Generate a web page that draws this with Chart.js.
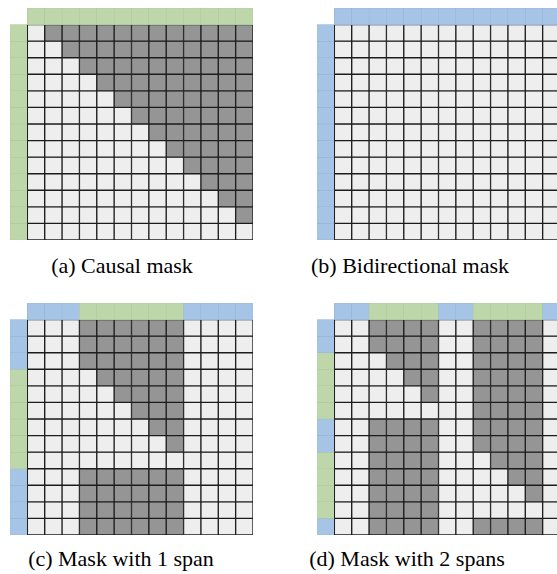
<!DOCTYPE html>
<html lang="en">
<head>
    <meta charset="UTF-8">
    <title>Attention masks</title>
    <script src="https://cdn.jsdelivr.net/npm/chart.js"></script>
    <style>
        body { margin: 0; background: #fff; overflow: hidden; width: 557px; height: 574px; }
        .panel { position: absolute; overflow: hidden; }
        .cap { position: absolute; width: 300px; text-align: center; font-family: 'Liberation Serif', 'Times New Roman', serif; font-size: 22px; line-height: 22px; color: #000; white-space: nowrap; }
    </style>
</head>
<body>
    <div class="panel" style="left:10px; top:8px; width:244px; height:233px;"><canvas id="c0" width="243" height="232"></canvas></div>
    <div class="panel" style="left:317px; top:8px; width:240px; height:233px;"><canvas id="c1" width="243" height="232"></canvas></div>
    <div class="panel" style="left:10px; top:303px; width:244px; height:233px;"><canvas id="c2" width="243" height="232"></canvas></div>
    <div class="panel" style="left:317px; top:303px; width:240px; height:233px;"><canvas id="c3" width="243" height="232"></canvas></div>

    <div class="cap" style="left:-28px; top:255px;">(a) Causal mask</div>
    <div class="cap" style="left:260px; top:255px;">(b) Bidirectional mask</div>
    <div class="cap" style="left:-29px; top:548px;">(c) Mask with 1 span</div>
    <div class="cap" style="left:257px; top:548px;">(d) Mask with 2 spans</div>

    <script>
        // span type of each token: G = green (masked span), B = blue (context)
        const causalSpans = 'GGGGGGGGGGGGG';
        const bidirSpans  = 'BBBBBBBBBBBBB';
        const oneSpan     = 'BBBGGGGGGBBBB';
        const twoSpans    = 'BBGGGGBBGGGGB';

        // 1 = masked (dark), 0 = visible (light)
        const causalMask = [
            '0111111111111',
            '0011111111111',
            '0001111111111',
            '0000111111111',
            '0000011111111',
            '0000001111111',
            '0000000111111',
            '0000000011111',
            '0000000001111',
            '0000000000111',
            '0000000000011',
            '0000000000001',
            '0000000000000'
        ];
        const bidirMask = [
            '0000000000000', '0000000000000', '0000000000000', '0000000000000',
            '0000000000000', '0000000000000', '0000000000000', '0000000000000',
            '0000000000000', '0000000000000', '0000000000000', '0000000000000',
            '0000000000000'
        ];
        const oneSpanMask = [
            '0001111110000',
            '0001111110000',
            '0001111110000',
            '0000111110000',
            '0000011110000',
            '0000001110000',
            '0000000110000',
            '0000000010000',
            '0000000000000',
            '0001111110000',
            '0001111110000',
            '0001111110000',
            '0001111110000'
        ];
        const twoSpanMask = [
            '0011110011110',
            '0011110011110',
            '0001110011110',
            '0000110011110',
            '0000010011110',
            '0000000011110',
            '0011110011110',
            '0011110011110',
            '0011110001110',
            '0011110000110',
            '0011110000010',
            '0011110000000',
            '0011110011110'
        ];

        const spanColor = { G: '#bdd7aa', B: '#a6c4e5' };
        const spanLine  = { G: '#adc99b', B: '#95b5d8' };
        const lightCell = '#eeeeee';
        const darkCell  = '#959595';
        const gridLine  = '#1c1c1c';

        function makeMask(canvasId, spans, mask) {
            const n = spans.length;
            const labels = [];
            for (let c = 0; c <= n; c++) labels.push(String(c));

            const datasets = [];
            for (let r = 0; r <= n; r++) {
                const data = [], bg = [], bc = [], bw = [];
                for (let c = 0; c <= n; c++) {
                    data.push([r, r + 1]);
                    if (r === 0 && c === 0) {
                        bg.push('rgba(0,0,0,0)'); bc.push('rgba(0,0,0,0)'); bw.push(0);
                    } else if (r === 0) {
                        const s = spans[c - 1];
                        bg.push(spanColor[s]); bc.push(spanLine[s]); bw.push(0.6);
                    } else if (c === 0) {
                        const s = spans[r - 1];
                        bg.push(spanColor[s]); bc.push(spanLine[s]); bw.push(0.6);
                    } else {
                        bg.push(mask[r - 1][c - 1] === '1' ? darkCell : lightCell);
                        bc.push(gridLine); bw.push(1);
                    }
                }
                datasets.push({
                    data: data,
                    backgroundColor: bg,
                    borderColor: bc,
                    borderWidth: bw,
                    borderSkipped: false,
                    grouped: false,
                    barPercentage: 1,
                    categoryPercentage: 1
                });
            }

            new Chart(document.getElementById(canvasId), {
                type: 'bar',
                data: { labels: labels, datasets: datasets },
                options: {
                    responsive: false,
                    animation: false,
                    devicePixelRatio: 1,
                    layout: { padding: 0 },
                    plugins: { legend: { display: false }, tooltip: { enabled: false }, title: { display: false } },
                    scales: {
                        x: { display: false, offset: true },
                        y: { display: false, min: 0, max: n + 1, reverse: true }
                    }
                }
            });
        }

        makeMask('c0', causalSpans, causalMask);
        makeMask('c1', bidirSpans, bidirMask);
        makeMask('c2', oneSpan, oneSpanMask);
        makeMask('c3', twoSpans, twoSpanMask);
    </script>
</body>
</html>
